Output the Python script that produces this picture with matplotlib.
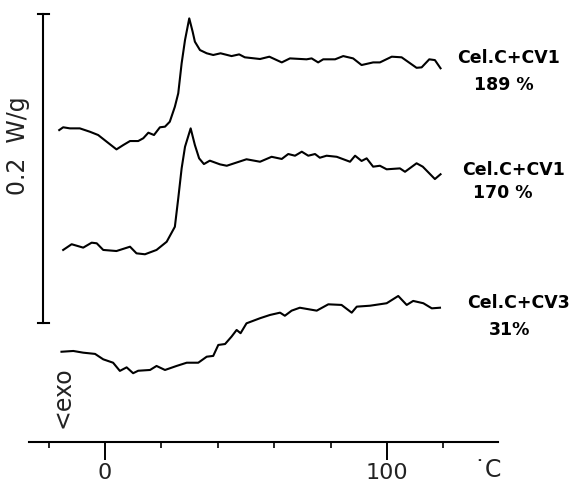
import matplotlib
matplotlib.use("Agg")
import matplotlib.pyplot as plt
import numpy as np

# DSC traces, heat flow in mW/g (curves stacked with offsets), temperature in degC
t_189 = [-16.2, -14.8, -12.4, -8.9, -5.3, -2.4, 0.6, 4.1, 6.5, 8.9, 11.8, 13.6, 15.4,
         17.4, 19.5, 21.3, 23.0, 24.8, 26.0, 27.2, 28.4, 29.9, 31.1, 31.9, 33.7, 36.1,
         38.4, 41.0, 44.9, 47.6, 49.6, 55.0, 58.3, 62.7, 65.6, 71.5, 73.3, 75.6, 77.4,
         81.6, 84.5, 88.0, 91.0, 95.1, 97.5, 101.7, 105.2, 110.5, 112.3, 115.0, 117.0,
         119.0]
q_189 = [201.9, 203.7, 203.0, 203.0, 200.8, 198.7, 194.4, 189.4, 192.2, 194.8, 194.8,
         196.6, 200.2, 198.7, 203.7, 204.1, 207.3, 217.0, 225.7, 245.1, 260.2, 274.2,
         265.6, 259.1, 253.7, 251.6, 250.5, 251.6, 249.8, 250.9, 249.0, 247.9, 249.4,
         245.7, 248.3, 247.7, 248.3, 245.7, 247.7, 247.7, 249.8, 248.3, 244.0, 245.7,
         245.7, 249.4, 249.0, 242.2, 242.5, 247.7, 247.2, 241.9]

t_170 = [-14.8, -11.8, -7.7, -4.7, -2.9, -0.6, 4.1, 8.9, 11.2, 14.2, 18.3, 21.9, 24.8,
         26.0, 27.2, 28.4, 30.4, 31.9, 33.4, 35.1, 37.2, 40.8, 43.2, 50.2, 55.0, 59.1,
         62.7, 65.0, 67.4, 69.8, 72.1, 74.5, 76.2, 78.6, 82.2, 86.9, 88.7, 91.0, 92.8,
         95.1, 97.5, 99.9, 104.6, 106.4, 110.5, 112.7, 117.0, 119.0]
q_170 = [124.3, 128.0, 125.8, 129.0, 128.6, 124.3, 123.6, 126.4, 122.1, 121.5, 124.3,
         129.6, 139.3, 157.7, 177.1, 191.1, 203.0, 192.2, 183.6, 179.9, 182.1, 179.7,
         178.8, 183.0, 181.4, 184.6, 183.2, 186.4, 185.3, 187.9, 185.3, 186.4, 184.0,
         185.3, 184.6, 181.4, 185.3, 181.9, 183.6, 178.2, 178.8, 176.5, 177.1, 174.9,
         180.4, 178.2, 170.2, 173.3]

t_31 = [-15.4, -11.2, -7.7, -3.5, -0.6, 2.9, 5.3, 7.7, 10.0, 11.8, 16.0, 18.3, 21.3,
        25.4, 29.0, 33.1, 36.1, 38.4, 40.2, 42.6, 44.9, 46.7, 48.1, 50.2, 55.0, 58.5,
        62.1, 63.8, 66.2, 69.1, 75.1, 79.2, 83.9, 87.5, 89.3, 94.0, 99.9, 104.0, 107.0,
        109.3, 112.9, 115.9, 118.8]
q_31 = [58.4, 58.9, 57.8, 57.0, 53.5, 51.3, 46.0, 48.3, 44.5, 46.1, 46.6, 49.2, 46.6,
        49.2, 51.3, 51.3, 55.2, 55.7, 62.8, 63.4, 68.2, 72.5, 70.4, 76.8, 80.1, 82.2,
        83.7, 81.7, 85.0, 86.9, 85.0, 89.1, 88.7, 83.7, 87.6, 88.2, 89.8, 94.5, 88.7,
        91.3, 89.8, 86.5, 86.9]

labels = [("Cel.C+CV1", "189 %"), ("Cel.C+CV1", "170 %"), ("Cel.C+CV3", "31%")]
major_ticks = [0, 100]
minor_ticks = [-20, 20, 40, 60, 80, 120]
scale_bar = 200  # mW/g, i.e. 0.2 W/g

fig = plt.figure(figsize=(5.81, 4.90), dpi=100)
ax = fig.add_axes([0, 0, 1, 1])
ax.set_xlim(-37.2, 168.8)
ax.set_ylim(-31.1, 286.1)

lw = 1.5
for t, q in [(t_189, q_189), (t_170, q_170), (t_31, q_31)]:
    ax.plot(t, q, color="black", lw=lw, solid_joinstyle="round")

# temperature axis
for s in ["top", "right", "left"]:
    ax.spines[s].set_visible(False)
ax.spines["bottom"].set_position(("data", 0))
ax.spines["bottom"].set_bounds(-27, 139.5)
ax.spines["bottom"].set_linewidth(1.5)
ax.set_yticks([])
ax.set_xticks(major_ticks)
ax.set_xticklabels(["0", "100"])
ax.set_xticks(minor_ticks, minor=True)
ax.tick_params(axis="x", which="major", direction="out", length=13, width=1.4,
               labelsize=16, pad=2, labelcolor="#222222")
ax.tick_params(axis="x", which="minor", direction="out", length=4.5, width=1.2)
ax.text(135.5, -18, "\u02d9C", fontsize=17, ha="center", va="center", color="#222222")

# 0.2 W/g scale bar
bar_x, bar_lo = -22.0, 77.0
ax.plot([bar_x, bar_x], [bar_lo, bar_lo + scale_bar], color="black", lw=1.5)
for yy in (bar_lo, bar_lo + scale_bar):
    ax.plot([bar_x - 1.9, bar_x + 2.3], [yy, yy], color="black", lw=1.5)
ax.text(-30.9, 192, "0.2  W/g", rotation=90, fontsize=17, ha="center", va="center",
        color="#222222")
ax.text(-15.2, 29, "<exo", rotation=90, fontsize=17, ha="center", va="center",
        color="#222222")

# curve labels
label_pos = [((143.1, 248.5), (141.5, 231.1)),
             ((145.0, 176.0), (141.0, 161.2)),
             ((146.5, 90.0), (143.3, 72.5))]
for (name, pct), (p1, p2) in zip(labels, label_pos):
    ax.text(p1[0], p1[1], name, fontsize=12.5, fontweight="bold", ha="center", va="center")
    ax.text(p2[0], p2[1], pct, fontsize=12.5, fontweight="bold", ha="center", va="center")

fig.savefig("out.png", dpi=100)
